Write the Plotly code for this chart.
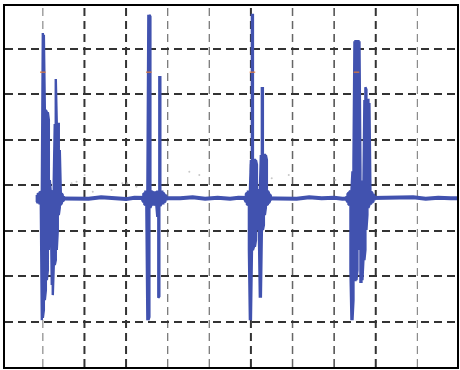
import plotly.graph_objects as go

# Oscilloscope trace, units = divisions (time: horizontal, voltage: vertical)
# Each burst is read as an envelope: sample time, upper excursion, lower excursion

# Burst 1
t_b1 = [0.856, 0.880, 0.904, 0.928, 0.952, 0.976, 1.000, 1.024, 1.048, 1.072, 1.096,
        1.120, 1.144, 1.167, 1.191, 1.215, 1.239, 1.263, 1.287, 1.311, 1.335, 1.359,
        1.383, 1.407, 1.431, 1.455, 1.478, 1.502]
hi_b1 = [-0.22, -0.18, -0.20, -0.16, -0.15, -0.15, 3.34, 3.30, 1.65, 1.65, 1.60,
         1.60, 1.43, 0.11, -0.15, -0.15, -0.13, 0.11, 1.34, 2.33, 1.34, 1.34,
         1.34, 0.77, -0.15, -0.18, -0.22, -0.24]
lo_b1 = [-0.36, -0.40, -0.38, -0.42, -0.44, -2.97, -2.92, -2.75, -2.53, -2.31, -2.09,
         -1.87, -1.43, -0.66, -0.46, -2.20, -2.42, -1.76, -1.76, -1.65, -1.43, -0.99,
         -0.66, -0.50, -0.44, -0.40, -0.36, -0.34]

# Burst 2
t_b2 = [3.392, 3.416, 3.440, 3.464, 3.488, 3.512, 3.536, 3.560, 3.584, 3.608, 3.632,
        3.656, 3.679, 3.703, 3.727, 3.751, 3.775, 3.799, 3.823, 3.847, 3.871, 3.895,
        3.919, 3.943, 3.967]
hi_b2 = [-0.24, -0.20, -0.18, -0.15, -0.15, -0.15, 3.74, 3.74, 3.70, -0.15, -0.13,
         -0.15, -0.17, -0.17, -0.15, -0.15, -0.15, 2.37, 2.37, -0.15, -0.15, -0.17,
         -0.20, -0.22, -0.24]
lo_b2 = [-0.34, -0.38, -0.42, -0.44, -0.50, -2.97, -2.97, -2.90, -0.50, -0.44, -0.44,
         -0.42, -0.42, -0.44, -0.44, -0.70, -2.48, -2.45, -0.46, -0.42, -0.40, -0.40,
         -0.38, -0.36, -0.34]

# Burst 3
t_b3 = [5.856, 5.880, 5.904, 5.928, 5.952, 5.976, 6.000, 6.024, 6.048, 6.072, 6.096,
        6.120, 6.144, 6.167, 6.191, 6.215, 6.239, 6.263, 6.287, 6.311, 6.335, 6.359,
        6.383, 6.407, 6.431, 6.455, 6.478]
hi_b3 = [-0.24, -0.20, -0.17, -0.15, -0.15, -0.13, 0.55, 3.74, 3.74, 0.55, 0.55,
         0.55, 0.45, -0.10, -0.13, -0.13, 0.66, 2.13, 2.13, 0.66, 0.66, 0.66,
         0.55, -0.13, -0.17, -0.20, -0.24]
lo_b3 = [-0.34, -0.38, -0.42, -0.44, -1.43, -2.97, -2.97, -1.47, -1.43, -1.36, -1.36,
         -1.21, -0.66, -0.99, -0.99, -2.48, -2.48, -0.99, -0.99, -0.88, -0.66, -0.50,
         -0.44, -0.42, -0.40, -0.36, -0.34]

# Burst 4
t_b4 = [8.297, 8.321, 8.344, 8.368, 8.392, 8.416, 8.440, 8.464, 8.488, 8.512, 8.536,
        8.560, 8.584, 8.608, 8.632, 8.656, 8.679, 8.703, 8.727, 8.751, 8.775, 8.799,
        8.823, 8.847, 8.871, 8.895, 8.919, 8.943, 8.967]
hi_b4 = [-0.24, -0.20, -0.17, -0.15, -0.13, -0.13, 0.30, 0.50, 3.16, 3.16, 3.16,
         3.16, 3.16, 3.16, 0.30, 0.10, -0.10, -0.10, 1.87, 2.15, 2.10, 1.87,
         1.87, 1.80, -0.13, -0.15, -0.18, -0.20, -0.24]
lo_b4 = [-0.34, -0.38, -0.42, -0.44, -1.87, -2.97, -2.97, -2.53, -2.09, -2.09, -2.09,
         -1.87, -1.43, -0.99, -2.13, -2.13, -2.09, -1.65, -1.65, -1.43, -0.99, -0.66,
         -0.50, -0.44, -0.42, -0.40, -0.38, -0.36, -0.34]

# Baseline level of the trace
t_base = [0.86, 1.2, 1.6, 1.8, 2.1, 2.4, 2.7, 3.0, 3.2, 3.5, 4.0, 4.3, 4.6, 4.9, 5.2,
          5.5, 5.7, 6.2, 6.6, 6.8, 7.1, 7.4, 7.7, 8.0, 8.2, 8.6, 9.1, 9.3, 9.6, 9.9,
          10.2, 10.5, 10.8, 11.0]
v_base = [-0.29, -0.29, -0.28, -0.28, -0.30, -0.27, -0.29, -0.31, -0.28, -0.29, -0.29,
          -0.29, -0.27, -0.30, -0.28, -0.30, -0.28, -0.29, -0.29, -0.28, -0.30, -0.27,
          -0.29, -0.28, -0.30, -0.29, -0.29, -0.28, -0.29, -0.27, -0.30, -0.28, -0.29,
          -0.29]

# small orange markers on main spikes
t_mark = [1.00, 3.548, 6.036, 8.536]
v_mark = [2.48, 2.48, 2.48, 2.48]

# faint scattered dots
t_dots = [1.69, 1.81, 2.005, 2.20, 2.65, 2.91, 3.03, 3.25, 4.52, 4.76, 6.50, 6.91, 8.03]
v_dots = [0.04, 0.07, 0.22, -0.15, -0.11, 0.04, 0.04, -0.04, 0.29, 0.22, 0.15, 0.22, 0.11]

# vertical graticule lines (divisions) and their printed darkness
grid_x = [1, 2, 3, 4, 5, 6, 7, 8, 9, 10]
grid_col = ["#8a8a8a", "#333333", "#333333", "#7a7a7a", "#7a7a7a",
            "#333333", "#666666", "#555555", "#333333", "#8a8a8a"]
grid_w = [1.2, 2.0, 2.0, 1.3, 1.3, 2.0, 1.5, 1.6, 2.0, 1.2]

bursts = [(t_b1, hi_b1, lo_b1), (t_b2, hi_b2, lo_b2),
          (t_b3, hi_b3, lo_b3), (t_b4, hi_b4, lo_b4)]
bx, by = [], []
for ts, his, los in bursts:
    for i, (t, h, l) in enumerate(zip(ts, his, los)):
        pair = (h, l) if i % 2 == 0 else (l, h)
        bx += [t, t]
        by += list(pair)
    bx.append(None)
    by.append(None)

COL = "#4152AF"
fig = go.Figure()
fig.add_trace(go.Scatter(x=t_dots, y=v_dots, mode="markers",
                         marker=dict(color="#c8c8c8", size=2), hoverinfo="skip"))
fig.add_trace(go.Scatter(x=t_base, y=v_base, mode="lines",
                         line=dict(color=COL, width=4), hoverinfo="skip"))
fig.add_trace(go.Scatter(x=bx, y=by, mode="lines", connectgaps=False,
                         line=dict(color=COL, width=2.4), hoverinfo="skip"))
fig.add_trace(go.Scatter(x=t_mark, y=v_mark, mode="markers",
                         marker=dict(symbol="line-ew", size=4,
                                     line=dict(color="#E07A3A", width=1.2)),
                         hoverinfo="skip"))

for gx, gc, gw in zip(grid_x, grid_col, grid_w):
    fig.add_shape(type="line", xref="x", yref="paper", x0=gx, x1=gx, y0=0, y1=1,
                  line=dict(color=gc, width=gw, dash="8px,5px"), layer="below")

fig.update_layout(
    width=460, height=370,
    margin=dict(l=5, r=1, t=6, b=3),
    paper_bgcolor="white", plot_bgcolor="white",
    showlegend=False,
    xaxis=dict(range=[0.091, 10.952], showticklabels=False, ticks="",
               showgrid=False, zeroline=False,
               showline=True, linecolor="black", linewidth=2, mirror=True),
    yaxis=dict(range=[-4.0, 3.934], tick0=0, dtick=1, showticklabels=False,
               ticks="", showgrid=True, gridcolor="#333333", gridwidth=1.8,
               griddash="8px,5px", zeroline=False,
               showline=True, linecolor="black", linewidth=2, mirror=True),
)

fig.write_html("out.html", config={"displayModeBar": False},
               post_script="document.body.style.margin='0px';")
